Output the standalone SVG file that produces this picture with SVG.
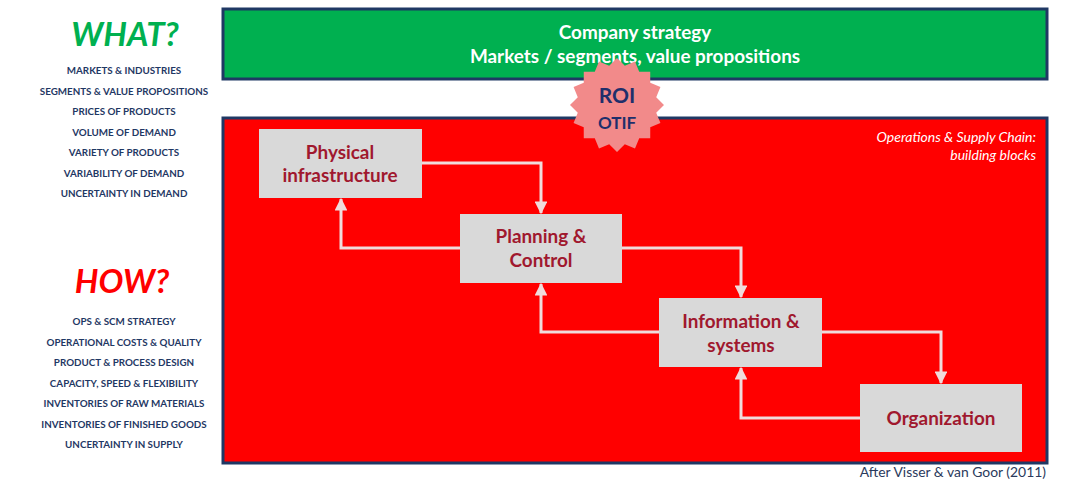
<svg xmlns="http://www.w3.org/2000/svg" width="1073" height="482" viewBox="0 0 1073 482">
  <style>
    .side-title { font-family: Lato, "Liberation Sans", sans-serif; font-weight: 700; font-style: italic; text-anchor: middle; }
    .item { font-family: Lato, "Liberation Sans", sans-serif; font-weight: 700; font-size: 9.8px; fill: #1f3864; text-anchor: middle; }
    .panel { stroke: #1f3864; stroke-width: 3; }
    .head { font-family: Lato, "Liberation Sans", sans-serif; font-weight: 700; font-size: 18.9px; fill: #ffffff; text-anchor: middle; }
    .block { fill: #d9d9d9; }
    .block-label { font-family: Lato, "Liberation Sans", sans-serif; font-weight: 700; font-size: 18.9px; fill: #a0182e; text-anchor: middle; }
    .badge-text { font-family: Lato, "Liberation Sans", sans-serif; font-weight: 700; fill: #1f2f6b; text-anchor: middle; }
    .note { font-family: Lato, "Liberation Sans", sans-serif; font-style: italic; font-size: 14px; fill: #ffffff; text-anchor: end; }
    .flow { fill: none; stroke: #f0dcdc; stroke-width: 3; marker-end: url(#arrow); }
  </style>
  <defs>
    <marker id="arrow" viewBox="0 0 10 10" refX="9" refY="5" markerWidth="4.3" markerHeight="4.3" markerUnits="strokeWidth" orient="auto">
      <path d="M0,0 L10,5 L0,10 z" fill="#f0dcdc"/>
    </marker>
  </defs>

  <rect width="1073" height="482" fill="#ffffff"/>

  <!-- WHAT? column -->
  <g id="what">
    <text class="side-title" x="125" y="46" font-size="33" fill="#00b050">WHAT?</text>
    <text class="item" x="124" y="74">MARKETS &amp; INDUSTRIES</text>
    <text class="item" x="124" y="94.5">SEGMENTS &amp; VALUE PROPOSITIONS</text>
    <text class="item" x="124" y="115">PRICES OF PRODUCTS</text>
    <text class="item" x="124" y="135.5">VOLUME OF DEMAND</text>
    <text class="item" x="124" y="156">VARIETY OF PRODUCTS</text>
    <text class="item" x="124" y="176.5">VARIABILITY OF DEMAND</text>
    <text class="item" x="124" y="197">UNCERTAINTY IN DEMAND</text>
  </g>

  <!-- HOW? column -->
  <g id="how">
    <text class="side-title" x="122" y="293" font-size="33" fill="#ff0000">HOW?</text>
    <text class="item" x="124" y="325">OPS &amp; SCM STRATEGY</text>
    <text class="item" x="124" y="345.5">OPERATIONAL COSTS &amp; QUALITY</text>
    <text class="item" x="124" y="366">PRODUCT &amp; PROCESS DESIGN</text>
    <text class="item" x="124" y="386.5">CAPACITY, SPEED &amp; FLEXIBILITY</text>
    <text class="item" x="124" y="407">INVENTORIES OF RAW MATERIALS</text>
    <text class="item" x="124" y="427.5">INVENTORIES OF FINISHED GOODS</text>
    <text class="item" x="124" y="448">UNCERTAINTY IN SUPPLY</text>
  </g>

  <!-- Strategy banner -->
  <g id="strategy">
    <rect class="panel" x="223" y="9" width="824" height="70" fill="#00b050"/>
    <text class="head" x="635" y="39">Company strategy</text>
    <text class="head" x="635" y="63">Markets / segments, value propositions</text>
  </g>

  <!-- Operations panel -->
  <g id="operations">
    <rect class="panel" x="223" y="118" width="824" height="345" fill="#ff0000"/>
    <text class="note" x="1036" y="142">Operations &amp; Supply Chain:</text>
    <text class="note" x="1036" y="160">building blocks</text>
  </g>

  <!-- ROI / OTIF badge -->
  <g id="kpi">
    <polygon fill="#f28a8a" points="617,58 624.8,65.77 634.99,61.58 639.22,71.74 650.23,71.77 650.26,82.78 660.42,87.01 656.23,97.2 664,105 656.23,112.8 660.42,122.99 650.26,127.22 650.23,138.23 639.22,138.26 634.99,148.42 624.8,144.23 617,152 609.2,144.23 599.01,148.42 594.78,138.26 583.77,138.23 583.74,127.22 573.58,122.99 577.77,112.8 570,105 577.77,97.2 573.58,87.01 583.74,82.78 583.77,71.77 594.78,71.74 599.01,61.58 609.2,65.77"/>
    <text class="badge-text" x="617" y="103" font-size="21">ROI</text>
    <text class="badge-text" x="617" y="129" font-size="17">OTIF</text>
  </g>

  <!-- Building blocks -->
  <g id="physical">
    <rect class="block" x="259" y="129" width="163" height="69"/>
    <text class="block-label" x="340" y="159">Physical</text>
    <text class="block-label" x="340" y="182">infrastructure</text>
  </g>
  <g id="planning">
    <rect class="block" x="460" y="214" width="162" height="69"/>
    <text class="block-label" x="541" y="243">Planning &amp;</text>
    <text class="block-label" x="541" y="267">Control</text>
  </g>
  <g id="information">
    <rect class="block" x="659" y="298" width="163" height="69"/>
    <text class="block-label" x="741" y="328">Information &amp;</text>
    <text class="block-label" x="741" y="352">systems</text>
  </g>
  <g id="organization">
    <rect class="block" x="860" y="384" width="162" height="68"/>
    <text class="block-label" x="941" y="425">Organization</text>
  </g>

  <!-- Connectors -->
  <g id="connectors">
    <path class="flow" d="M422,163 H541 V213"/>
    <path class="flow" d="M460,248 H341 V199"/>
    <path class="flow" d="M622,248 H741 V297"/>
    <path class="flow" d="M659,332 H541 V284"/>
    <path class="flow" d="M822,332 H941 V383"/>
    <path class="flow" d="M860,418 H741 V368"/>
  </g>

  <!-- Source -->
  <text x="1046" y="477" font-family="Lato, 'Liberation Sans', sans-serif" font-size="13.9" fill="#2a3a5c" text-anchor="end">After Visser &amp; van Goor (2011)</text>
</svg>
